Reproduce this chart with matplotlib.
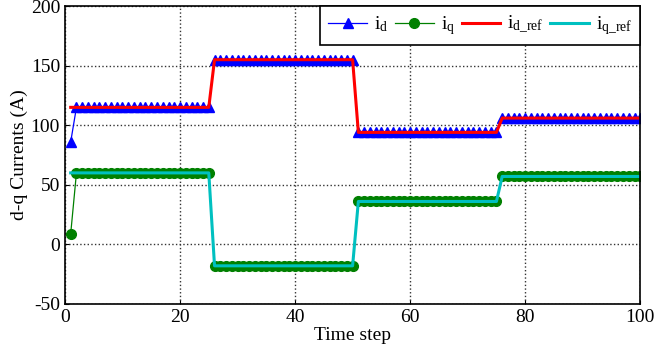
import matplotlib.pyplot as plt

plt.rcParams['font.family'] = ['Liberation Serif', 'DejaVu Serif']
plt.rcParams['mathtext.fontset'] = 'custom'
plt.rcParams['mathtext.rm'] = 'Liberation Serif'
plt.rcParams['mathtext.it'] = 'Liberation Serif'
plt.rcParams['axes.unicode_minus'] = False

# step data: level per segment, segment length in steps
steps = list(range(1, 101))
id_ref_levels = [115, 155, 94, 106]
iq_ref_levels = [60, -18, 36, 57]
seg_len = [25, 25, 25, 25]
id_start = 86   # measured id at t=1
iq_start = 9    # measured iq at t=1

id_ref = []
iq_ref = []
for lev_d, lev_q, n in zip(id_ref_levels, iq_ref_levels, seg_len):
    id_ref += [lev_d] * n
    iq_ref += [lev_q] * n
id_meas = [id_start] + id_ref[1:]
iq_meas = [iq_start] + iq_ref[1:]

fig = plt.figure(figsize=(6.56, 3.58), dpi=100)
ax = fig.add_axes([0.099, 0.151, 0.877, 0.832])

ax.plot(steps, id_meas, color='blue', lw=0.9, marker='^', ms=6.5, label='$\\mathregular{i_d}$')
ax.plot(steps, iq_meas, color='green', lw=0.9, marker='o', ms=7, label='$\\mathregular{i_q}$')
ax.plot(steps, id_ref, color='red', lw=2.2, label='$\\mathregular{i_{d\\_ref}}$')
ax.plot(steps, iq_ref, color='#00c0c0', lw=2.2, label='$\\mathregular{i_{q\\_ref}}$')

ax.set_xlim(0, 100)
ax.set_ylim(-50, 200)
ax.set_xticks([0, 20, 40, 60, 80, 100])
ax.set_yticks([-50, 0, 50, 100, 150, 200])
ax.grid(True, color='#333333', linestyle=':', lw=1.0)
ax.tick_params(direction='in', labelsize=14, length=3)
for sp in ax.spines.values():
    sp.set_linewidth(1.2)

ax.set_xlabel('Time step', fontsize=14, labelpad=1)
ax.set_ylabel('d-q Currents (A)', fontsize=14, labelpad=2)

leg = ax.legend(loc='upper right', ncol=4, fontsize=14, frameon=True, fancybox=False,
                edgecolor='black', borderaxespad=0, handlelength=2.0, columnspacing=0.35,
                handletextpad=0.35, borderpad=0.4)
leg.get_frame().set_linewidth(1.2)
leg.get_frame().set_alpha(1)

plt.savefig('out.png', dpi=100)
plt.close()
